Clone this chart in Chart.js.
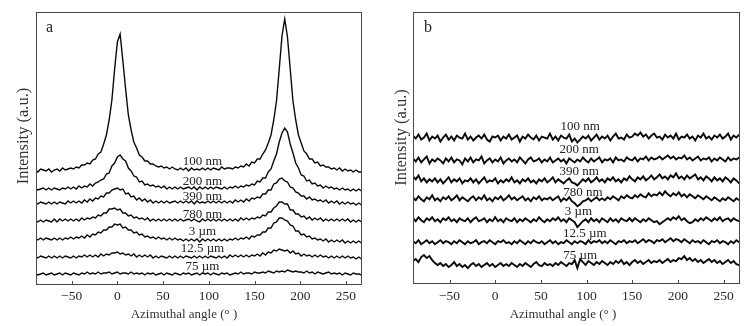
<!DOCTYPE html>
<html>
<head>
<meta charset="utf-8">
<title>Azimuthal intensity profiles</title>
<script src="https://cdn.jsdelivr.net/npm/chart.js@4.4.0/dist/chart.umd.min.js"></script>
<style>
	body { margin: 0; background: #fff; width: 755px; height: 326px; overflow: hidden; position: relative; }
	canvas { position: absolute; top: 0; }
	#chartA { left: 0; }
	#chartB { left: 377px; }
</style>
</head>
<body>
<canvas id="chartA" width="377" height="326"></canvas>
<canvas id="chartB" width="378" height="326"></canvas>
<script>
// sampling grid of the azimuthal scans (degrees)
const angleStart = -90, angleStep = 3, angleCount = 120;
const xTicks = [-50, 0, 50, 100, 150, 200, 250];
const seriesNames = ['100 nm', '200 nm', '390 nm', '780 nm', '3 µm', '12.5 µm', '75 µm'];

// panel a - intensity (a.u., curves offset vertically)
const a100 = [115,113,116,115,114,116,113,115,116,114, 117,115,116,117,116,118,117,120,120,122,
	121,125,126,131,133,141,150,165,185,216, 243,251,224,196,170,155,143,137,130,128,
	124,124,121,121,119,118,119,117,118,116, 118,116,115,117,115,117,114,117,115,116,
	115,117,115,117,115,117,116,115,118,116, 117,117,116,118,117,119,118,121,119,123,
	122,126,126,131,135,142,150,165,184,216, 249,266,248,216,184,165,150,142,134,131,
	126,126,122,123,119,120,118,118,116,117, 115,117,114,116,114,115,113,115,113,113];
const a200 = [97,95,96,97,95,97,95,97,96,95, 97,96,98,96,98,96,99,97,99,98,
	101,99,102,103,105,106,111,112,119,122, 128,130,126,124,117,114,109,108,103,104,
	100,101,99,100,98,99,97,99,96,98, 96,98,96,98,96,97,98,96,98,95,
	98,96,98,96,98,96,98,97,96,98, 96,98,97,99,97,99,98,100,99,101,
	100,104,103,107,107,113,116,124,131,143, 152,157,153,141,132,122,117,110,109,104,
	105,101,102,99,100,97,99,97,98,96, 97,95,97,95,96,94,96,94,96,94];
const a390 = [83,81,83,82,81,83,81,83,81,83, 82,81,84,82,84,82,84,82,85,83,
	86,84,87,86,89,88,92,92,95,96, 97,95,96,91,92,88,89,85,87,84,
	86,83,85,82,84,82,84,82,84,82, 83,84,82,84,82,84,82,84,81,84,
	82,83,82,84,82,84,82,84,82,84, 82,84,82,85,83,85,83,86,84,87,
	86,88,87,91,91,95,95,101,102,106, 107,104,103,98,97,93,92,89,89,86,
	88,85,86,84,85,83,85,82,84,82, 84,81,83,81,83,81,82,80,82,80];
const a780 = [65,63,65,63,65,64,63,66,63,66, 64,66,64,66,64,66,64,67,65,67,
	66,68,67,70,69,72,72,76,76,77, 75,76,72,72,69,70,67,68,66,67,
	65,67,64,66,64,66,64,66,64,66, 64,66,64,66,64,65,66,64,66,64,
	63,66,64,66,64,66,64,66,64,66, 64,66,64,66,64,67,65,67,65,67,
	66,68,67,70,69,73,73,77,79,83, 83,81,81,75,75,71,71,68,69,66,
	68,65,67,65,67,64,66,64,66,64, 66,64,66,64,66,63,65,63,65,63];
const a3um = [47,45,47,45,47,46,45,47,45,47, 45,47,46,48,46,48,47,49,47,50,
	48,51,50,53,52,55,55,58,58,61, 60,61,57,58,55,55,52,53,50,51,
	48,49,47,48,46,48,46,47,45,47, 45,47,45,46,44,46,44,46,44,46,
	43,46,44,46,44,46,44,46,44,46, 44,46,45,47,45,47,46,48,46,49,
	48,50,50,53,53,57,57,62,63,67, 67,65,64,60,59,54,54,50,51,48,
	49,46,47,45,46,44,46,43,45,43, 45,43,45,42,44,42,44,42,44,42];
const a12um = [29,27,29,28,27,29,27,29,27,29, 27,29,28,27,29,27,29,28,30,28,
	30,28,30,28,31,29,31,30,32,32, 33,31,32,30,31,29,31,28,30,28,
	30,28,30,27,29,27,29,28,27,29, 27,29,27,29,27,29,28,27,29,27,
	29,27,29,27,29,28,27,29,27,29, 27,30,28,30,28,30,28,30,28,30,
	29,31,29,32,30,33,32,35,34,36, 35,34,35,32,34,31,32,29,31,29,
	30,28,30,28,30,28,29,27,29,27, 29,27,29,27,29,27,28,26,28,26];
const a75um = [12,10,11,12,10,11,12,10,11,12, 10,12,11,10,12,11,10,12,11,13,
	11,12,11,13,11,12,12,13,11,12, 13,11,12,12,11,13,11,12,11,12,
	10,12,11,12,10,11,12,10,12,11, 10,12,11,10,12,11,12,10,11,12,
	10,12,11,12,10,12,11,10,12,11, 12,10,11,12,11,13,11,12,12,11,
	13,12,12,13,12,14,13,12,14,13, 14,13,15,14,13,14,13,13,12,14,
	12,13,11,13,12,11,12,13,11,12, 11,12,10,12,11,10,12,11,11,10];

// panel b - intensity (a.u., curves offset vertically)
const b100 = [149,146,150,145,147,151,144,148,146,149, 143,147,150,145,148,144,149,147,146,151,
	145,148,144,147,149,146,150,145,143,148, 147,149,144,148,146,150,145,147,149,143,
	148,146,150,147,145,149,144,148,147,146, 151,145,148,144,149,147,146,150,143,146,
	142,145,148,146,149,144,147,150,145,148, 146,149,144,148,151,146,147,145,150,147,
	148,151,149,152,148,150,146,149,151,147, 148,145,150,147,149,146,151,145,148,147,
	150,146,148,144,149,147,151,146,148,145, 149,147,150,146,148,151,145,149,147,150];
const b200 = [126,123,127,122,125,128,121,125,123,126, 124,121,126,123,127,122,125,124,120,126,
	123,127,122,125,124,128,121,124,126,122, 125,123,127,121,124,126,123,125,122,127,
	124,121,125,127,123,124,126,122,125,123, 127,122,124,126,123,125,121,126,124,122,
	125,123,127,124,122,126,123,125,127,122, 125,124,126,122,127,124,125,123,127,125,
	124,127,123,126,125,128,124,127,125,126, 128,125,127,129,126,128,125,127,126,129,
	125,127,124,126,128,124,126,125,127,123, 126,124,127,125,123,127,124,126,125,127];
const b390 = [108,105,109,103,106,102,105,103,106,102, 105,101,104,107,102,105,103,106,101,104,
	103,106,102,105,101,104,107,102,104,103, 106,101,104,102,105,103,107,102,104,101,
	105,103,106,102,104,101,105,103,106,102, 104,107,102,105,103,101,104,106,102,101,
	99,102,105,103,106,102,104,107,103,105, 102,106,104,107,103,105,102,106,104,108,
	105,103,107,105,108,104,106,109,105,107, 110,106,108,105,109,107,111,106,108,105,
	109,106,108,110,105,107,104,108,106,103, 107,104,106,103,107,105,102,106,104,101];
const b780 = [87,84,88,85,83,87,85,89,84,86, 83,87,85,88,84,86,89,84,87,85,
	83,86,88,84,87,85,89,84,86,83, 87,85,88,84,86,89,85,87,84,86,
	88,84,86,83,87,85,88,84,86,85, 87,84,86,88,83,86,84,87,83,81,
	78,80,83,84,86,83,85,87,84,86, 84,87,85,88,86,84,88,86,89,87,
	86,89,87,90,88,87,91,88,90,89, 92,89,93,90,88,91,89,92,88,90,
	87,90,88,86,89,87,85,88,86,84, 87,85,83,86,84,87,85,83,86,84];
const b3um = [66,63,67,64,62,66,64,67,63,65, 62,66,64,67,63,65,62,66,64,63,
	66,62,65,67,63,64,66,62,65,63, 67,63,65,62,66,64,63,66,62,65,
	63,66,64,62,65,63,67,64,62,65, 63,66,64,67,63,65,62,66,64,62,
	57,60,63,65,62,66,63,65,62,66, 64,62,66,63,65,62,66,64,63,66,
	63,66,64,62,65,63,66,64,62,63, 60,62,64,66,64,67,65,68,64,66,
	63,61,62,65,63,66,64,67,65,63, 66,64,67,63,65,66,63,66,64,63];
const b12um = [43,41,44,40,42,44,41,43,40,42, 44,41,43,42,40,43,41,44,42,40,
	43,41,42,44,40,42,43,41,44,42, 40,43,42,44,41,42,40,43,41,44,
	42,40,43,41,44,42,41,43,40,42, 44,41,43,40,42,41,44,42,40,43,
	41,43,42,40,44,41,43,42,44,41, 43,41,44,42,40,43,42,44,41,43,
	42,44,41,43,45,42,44,43,41,44, 43,45,42,44,46,43,45,44,42,45,
	43,41,44,42,43,41,44,42,40,43, 42,44,41,43,42,40,43,41,44,42];
const b75um = [23,25,22,27,29,26,28,24,21,19, 21,18,20,17,19,22,18,20,17,19,
	16,19,21,18,20,17,19,21,18,20, 17,19,21,18,20,18,21,19,17,20,
	18,21,19,17,20,22,19,18,21,19, 20,18,21,19,22,20,18,21,20,24,
	16,25,22,19,23,21,19,22,20,23, 21,19,22,20,23,21,24,20,22,19,
	22,24,21,23,20,22,24,21,23,22, 24,21,23,25,22,24,23,26,25,28,
	24,26,23,25,22,24,21,23,25,22, 24,21,23,20,22,24,21,23,20,19];

// where each curve name is written (angle, intensity)
const labelAngleA = [93, 93, 93, 93, 93, 93, 93];
const labelLevelA = [123, 103, 88, 70, 53, 36, 18];
const labelAngleB = [93, 92, 92, 96, 91, 98, 93];
const labelLevelB = [158, 135, 113, 92, 73, 51, 29];

const angles = [];
for (let i = 0; i < angleCount; i++) angles.push(angleStart + i * angleStep);

const serif = '"Liberation Serif", "Times New Roman", serif';

function makeDatasets (curves, width) {
	return curves.map((vals, k) => ({
		label: seriesNames[k],
		data: vals.map((v, i) => ({ x: angles[i], y: v })),
		borderColor: '#0a0a0a',
		borderWidth: width,
		pointRadius: 0,
		tension: 0,
		clip: 0
	}));
}

function tickText (v) {
	return v < 0 ? '\u2212' + Math.abs(v) : String(v);
}

// frame, inward ticks, tick labels, axis titles, panel letter and curve names
function makeDecor (letter, letterX, titleX, titleY, xTitleX, labelAngles, labelLevels) {
	return {
		id: 'decor' + letter,
		afterDraw (chart) {
			const { ctx, chartArea: a, scales: { x, y } } = chart;
			ctx.save();
			ctx.strokeStyle = '#4a4a4a';
			ctx.lineWidth = 1;
			ctx.strokeRect(a.left + 0.5, a.top + 0.5, a.right - a.left - 1, a.bottom - a.top - 1);
			ctx.fillStyle = '#2a2a2a';
			ctx.font = '13.5px ' + serif;
			ctx.textAlign = 'center';
			ctx.textBaseline = 'alphabetic';
			x.ticks.forEach(t => {
				const px = x.getPixelForValue(t.value);
				ctx.beginPath();
				ctx.moveTo(Math.round(px) + 0.5, a.bottom);
				ctx.lineTo(Math.round(px) + 0.5, a.bottom - 4);
				ctx.stroke();
				ctx.fillText(tickText(t.value), px, 299.5);
			});
			ctx.fillStyle = '#222';
			ctx.font = '16px ' + serif;
			ctx.textAlign = 'left';
			ctx.fillText(letter, letterX, 32);
			ctx.font = '13px ' + serif;
			ctx.textAlign = 'center';
			ctx.fillStyle = '#333';
			ctx.fillText('Azimuthal angle (° )', xTitleX, 317.5);
			ctx.fillStyle = '#222';
			ctx.textBaseline = 'middle';
			seriesNames.forEach((name, k) => {
				ctx.fillText(name, x.getPixelForValue(labelAngles[k]), y.getPixelForValue(labelLevels[k]));
			});
			ctx.translate(titleX, titleY);
			ctx.rotate(-Math.PI / 2);
			ctx.font = '16.5px ' + serif;
			ctx.fillStyle = '#333';
			ctx.fillText('Intensity (a.u.)', 0, 0);
			ctx.restore();
		}
	};
}

function makeChart (id, curves, width, xMin, xMax, axisHeight, decor) {
	return new Chart(document.getElementById(id), {
		type: 'line',
		data: { datasets: makeDatasets(curves, width) },
		options: {
			responsive: false,
			animation: false,
			layout: { padding: { left: 36, right: 15, top: 12, bottom: 0 } },
			plugins: { legend: { display: false }, tooltip: { enabled: false } },
			scales: {
				x: {
					type: 'linear',
					min: xMin,
					max: xMax,
					afterBuildTicks: s => { s.ticks = xTicks.map(v => ({ value: v })); },
					afterFit: s => { s.height = axisHeight; },
					grid: { display: false },
					border: { display: false },
					ticks: { display: false }
				},
				y: { display: false, min: 0, max: 273 }
			}
		},
		plugins: [decor]
	});
}

makeChart('chartA', [a100, a200, a390, a780, a3um, a12um, a75um], 1.4, -89, 267.5, 41,
	makeDecor('a', 46, 23.5, 136, 184, labelAngleA, labelLevelA));
makeChart('chartB', [b100, b200, b390, b780, b3um, b12um, b75um], 1.9, -90, 268, 42,
	makeDecor('b', 47, 24.5, 137.5, 186, labelAngleB, labelLevelB));
</script>
</body>
</html>
